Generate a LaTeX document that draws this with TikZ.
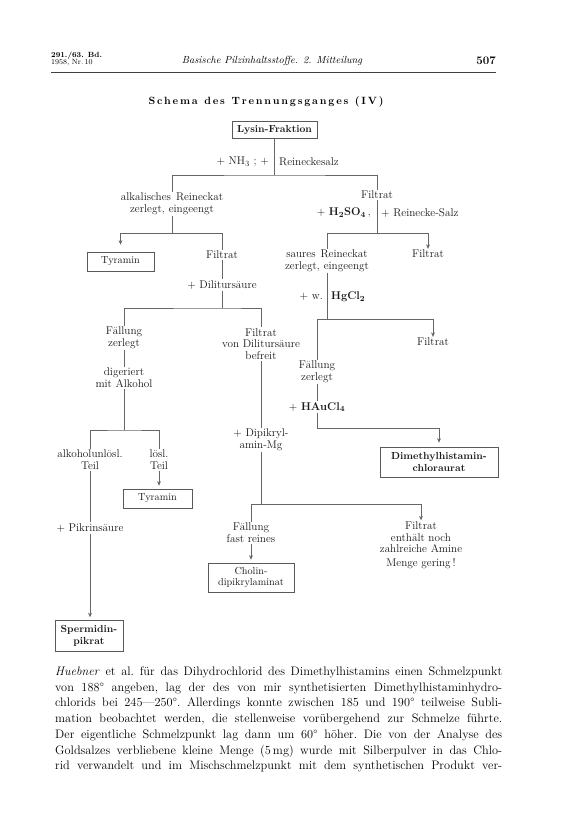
\documentclass[tikz,border=0pt]{standalone}
\usepackage{fontspec}
\usetikzlibrary{arrows.meta}
\newcommand{\dgfont}{\fontsize{11.2}{11.8}\selectfont}
\newcommand{\bxfont}{\fontsize{10.2}{11.6}\selectfont}
\newcommand{\bodyfont}{\fontsize{12.3}{15.7}\selectfont\frenchspacing}
\tikzset{
  lbl/.style={font=\dgfont, align=center, inner sep=1pt, text=black!90},
  bx/.style={draw=black!65, line width=0.6pt, font=\bxfont, align=center, inner sep=0pt, text=black!90},
  ln/.style={draw=black!60, line width=0.55pt},
  arr/.style={ln, -{Stealth[length=4.5pt,width=3.8pt]}},
  bodyline/.style={anchor=base west, inner sep=0pt, font=\bodyfont},
}
\begin{document}
\begin{tikzpicture}[x=1pt,y=-1pt]
\fill[white] (0,0) rectangle (561,827);
\useasboundingbox (0,0) rectangle (561,827);

% header
\node[font=\fontsize{7.5}{8}\selectfont\bfseries, anchor=west, inner sep=0pt] (h1) at (51,55.5) {291./63. Bd.};
\node[font=\fontsize{7.5}{8}\selectfont, anchor=west, inner sep=0pt] (h2) at (51,63) {1958, Nr.\,10};
\node[font=\fontsize{10.3}{12}\selectfont\itshape, inner sep=0pt] (ht) at (272,61) {Basische Pilzinhaltsstoffe. 2. Mitteilung};
\node[font=\fontsize{11.5}{12}\selectfont\bfseries, anchor=east, inner sep=0pt] (pg) at (496,60.5) {507};
\coordinate (r1) at (51,72);
\coordinate (r2) at (496,72);
\draw[line width=0.9pt, black!75] (r1) -- (r2);

% title (letter-spaced)
\node[font=\fontsize{10.5}{12}\selectfont\bfseries, inner sep=0pt] (title) at (266,102) {\hbox to 235pt{S\hfil c\hfil h\hfil e\hfil m\hfil a\hfil\hskip 3pt\hfil d\hfil e\hfil s\hfil\hskip 3pt\hfil T\hfil r\hfil e\hfil n\hfil n\hfil u\hfil n\hfil g\hfil s\hfil g\hfil a\hfil n\hfil g\hfil e\hfil s\hfil\hskip 3pt\hfil (\hfil I\hfil V\hfil )}};

% top
\node[bx, font=\bxfont\bfseries, minimum width=85, minimum height=17] (lysin) at (274.5,129.5) {Lysin-Fraktion};
\coordinate (j0) at (274.5,175);
\node[lbl, anchor=east] (nh3) at (270,162) {$+$ NH$_3$ ;\ $+$};
\node[lbl, anchor=west] (reis) at (278,162) {Reineckesalz};
\node[lbl] (alk) at (172,204) {alkalisches\hspace{5pt}Reineckat\\zerlegt,\hspace{4pt}eingeengt};
\node[lbl] (fil1) at (377,195) {Filtrat};
\node[lbl, anchor=east] (h2so4) at (372,213) {$+$ \textbf{H\textsubscript{2}SO\textsubscript{4}}\,,};
\node[lbl, anchor=west] (reis2) at (380,213) {$+$ Reinecke-Salz};
\draw[ln] (lysin.south) -- (j0);
\draw[ln] (alk.north) |- (j0) -| (fil1.north);

% left level 2
\coordinate (j1) at (172,233);
\node[bx, minimum width=67, minimum height=19] (tyr1) at (120.5,261.5) {Tyramin};
\node[lbl] (fil2) at (222,255) {Filtrat};
\draw[ln] (alk.south) -- (j1);
\draw[arr, shorten >=7pt] (fil2.north) |- (tyr1.north |- j1) -- (tyr1.north);
\node[lbl] (dil) at (222,285) {$+$ Dilitursäure};
\draw[ln] (fil2) -- (dil);
\coordinate (j3) at (222,308);
\node[lbl] (fz1) at (124,338) {Fällung\\zerlegt};
\node[lbl] (fvd) at (261,344) {Filtrat\\von Dilitursäure\\befreit};
\draw[ln] (dil.south) -- (j3);
\draw[ln] (fz1.north) |- (j3) -| (fvd.north);

% left column
\node[lbl] (dig) at (124,378) {digeriert\\mit Alkohol};
\draw[ln] (fz1) -- (dig);
\coordinate (j4) at (124,430);
\node[lbl] (unl) at (90,460) {alkoholunlösl.\\Teil};
\node[lbl] (los) at (159,460) {lösl.\\Teil};
\draw[ln] (dig.south) -- (j4);
\draw[ln] (unl.north) |- (j4) -| (los.north);
\node[bx, minimum width=69, minimum height=19] (tyr2) at (157.5,498.5) {Tyramin};
\draw[arr, shorten >=3pt] (los.south) -- (los.south |- tyr2.north);
\node[lbl] (pik) at (90,528) {$+$ Pikrinsäure};
\node[bx, font=\bxfont\bfseries, minimum width=68, minimum height=31] (spe) at (89,636) {Spermidin-\\pikrat};
\draw[ln] (unl) -- (pik);
\draw[arr, shorten >=3pt] (pik.south) -- (pik.south |- spe.north);

% middle column
\node[lbl] (dpk) at (261,440) {$+$ Dipikryl-\\amin-Mg};
\draw[ln] (fvd) -- (dpk);
\coordinate (j5) at (261,504);
\draw[ln] (dpk.south) -- (j5);
\node[lbl] (ffr) at (251,533) {Fällung\\fast reines};
\node[lbl] (fen) at (421,545) {Filtrat\\enthält noch\\zahlreiche Amine\\[1.5pt]Menge gering\,!};
\draw[ln] (ffr.north) |- (j5);
\draw[arr] (j5) -| (fen.north);
\node[bx, minimum width=86, minimum height=29] (cho) at (251,577.5) {Cholin-\\dipikrylaminat};
\draw[arr, shorten >=3pt] (ffr) -- (cho);

% right column
\coordinate (j2) at (377,233);
\draw[ln] (fil1.south) -- (j2);
\node[lbl] (sau) at (327,261) {saures\hspace{5pt}Reineckat\\zerlegt,\hspace{4pt}eingeengt};
\node[lbl] (fil3) at (428,254) {Filtrat};
\draw[ln] (sau.north) |- (j2);
\draw[arr] (j2) -| (fil3.north);
\node[lbl, anchor=east] (hgw) at (324,297) {$+$ w.};
\node[lbl, anchor=west] (hgc) at (330,297) {\textbf{HgCl\textsubscript{2}}};
\coordinate (j6) at (327,319);
\draw[ln] (sau.south) -- (j6);
\node[lbl] (fz2) at (317,372) {Fällung\\zerlegt};
\node[lbl] (fil4) at (433,342) {Filtrat};
\draw[ln] (fz2.north) |- (j6);
\draw[arr] (j6) -| (fil4.north);
\node[lbl] (hau) at (317,407) {$+$ \textbf{HAuCl\textsubscript{4}}};
\draw[ln] (fz2) -- (hau);
\coordinate (j7) at (317,428);
\node[bx, font=\bxfont\bfseries, minimum width=118, minimum height=30] (dmh) at (439,462) {Dimethylhistamin-\\chloraurat};
\draw[arr, shorten >=4pt] (hau.south) -- (j7) -| (dmh.north);

% body text
\node[bodyline] (b1) at (55,675.5) {\makebox[447pt][s]{\textit{Huebner} et al. für das Dihydrochlorid des Dimethylhistamins einen Schmelzpunkt}};
\node[bodyline] (b2) at (55,691.2) {\makebox[447pt][s]{von 188° angeben, lag der des von mir synthetisierten Dimethylhistaminhydro-}};
\node[bodyline] (b3) at (55,706.9) {\makebox[447pt][s]{chlorids bei 245—250°. Allerdings konnte zwischen 185 und 190° teilweise Subli-}};
\node[bodyline] (b4) at (55,722.6) {\makebox[447pt][s]{mation beobachtet werden, die stellenweise vorübergehend zur Schmelze führte.}};
\node[bodyline] (b5) at (55,738.3) {\makebox[447pt][s]{Der eigentliche Schmelzpunkt lag dann um 60° höher. Die von der Analyse des}};
\node[bodyline] (b6) at (55,754.0) {\makebox[447pt][s]{Goldsalzes verbliebene kleine Menge (5\,mg) wurde mit Silberpulver in das Chlo-}};
\node[bodyline] (b7) at (55,769.7) {\makebox[447pt][s]{rid verwandelt und im Mischschmelzpunkt mit dem synthetischen Produkt ver-}};
\end{tikzpicture}
\end{document}
